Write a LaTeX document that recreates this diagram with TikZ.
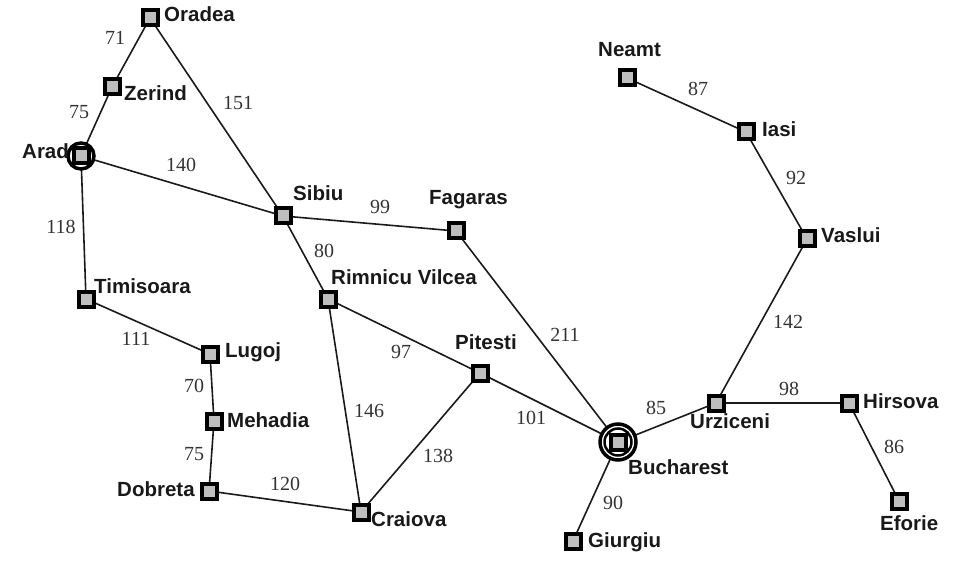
\documentclass[tikz,border=0pt]{standalone}
\usepackage{fontspec}
\setmainfont{Liberation Serif}
\newfontfamily\citysans{Liberation Sans}
\usepackage{xcolor}
\definecolor{cCity}{HTML}{BEBEBE}
\definecolor{cRoad}{HTML}{1A1A1A}
\usetikzlibrary{positioning,arrows.meta}
\tikzset{
  node-city/.style={draw=black,line width=4pt,fill=cCity,rectangle,
    minimum size=15pt,inner sep=0pt},
  node-ring/.style={draw=black,line width=3.5pt,fill=white,circle,inner sep=0pt},
  node-name/.style={anchor=base west,inner sep=0pt,font=\citysans\bfseries\fontsize{20.5}{22}\selectfont,text=black!90},
  node-dist/.style={inner sep=0pt,font=\fontsize{20}{22}\selectfont,text=black!80},
  road/.style={line width=1.6pt,draw=cRoad},
}
\begin{document}
\begin{tikzpicture}[x=1pt,y=-1pt]
  \useasboundingbox (0,0) rectangle (955,561);
  % cities
  \coordinate (oradea) at (150,18);
  \coordinate (zerind) at (112,87);
  \coordinate (arad) at (81,156);
  \coordinate (timisoara) at (86,299);
  \coordinate (lugoj) at (210,354);
  \coordinate (mehadia) at (214,421);
  \coordinate (dobreta) at (209,491);
  \coordinate (sibiu) at (283,216);
  \coordinate (rimnicu) at (328,299);
  \coordinate (fagaras) at (456,231);
  \coordinate (pitesti) at (480,373);
  \coordinate (craiova) at (361,512);
  \coordinate (bucharest) at (618,442);
  \coordinate (giurgiu) at (573,541);
  \coordinate (urziceni) at (716,403);
  \coordinate (hirsova) at (849,403);
  \coordinate (vaslui) at (807,239);
  \coordinate (iasi) at (746,132);
  \coordinate (neamt) at (627,78);
  \coordinate (eforie) at (899,501);
  % roads
  \draw[road] (oradea) -- (zerind);
  \draw[road] (zerind) -- (arad);
  \draw[road] (oradea) -- (sibiu);
  \draw[road] (arad) -- (sibiu);
  \draw[road] (arad) -- (timisoara);
  \draw[road] (timisoara) -- (lugoj);
  \draw[road] (lugoj) -- (mehadia);
  \draw[road] (mehadia) -- (dobreta);
  \draw[road] (dobreta) -- (craiova);
  \draw[road] (sibiu) -- (fagaras);
  \draw[road] (sibiu) -- (rimnicu);
  \draw[road] (rimnicu) -- (craiova);
  \draw[road] (rimnicu) -- (pitesti);
  \draw[road] (craiova) -- (pitesti);
  \draw[road] (pitesti) -- (bucharest);
  \draw[road] (fagaras) -- (bucharest);
  \draw[road] (bucharest) -- (giurgiu);
  \draw[road] (bucharest) -- (urziceni);
  \draw[road] (urziceni) -- (hirsova);
  \draw[road] (hirsova) -- (eforie);
  \draw[road] (urziceni) -- (vaslui);
  \draw[road] (vaslui) -- (iasi);
  \draw[road] (iasi) -- (neamt);
  % start and goal rings
  \node[node-ring,minimum size=26pt] (aradring) at (arad) {};
  \node[node-ring,minimum size=36pt] (buchouter) at (bucharest) {};
  \node[circle,draw=black,line width=2.5pt,inner sep=0pt,minimum size=27pt] (buchinner) at (bucharest) {};
  % markers
  \node[node-city] (n-oradea) at (oradea) {};
  \node[node-city] (n-zerind) at (zerind) {};
  \node[node-city] (n-arad) at (arad) {};
  \node[node-city] (n-timisoara) at (timisoara) {};
  \node[node-city] (n-lugoj) at (lugoj) {};
  \node[node-city] (n-mehadia) at (mehadia) {};
  \node[node-city] (n-dobreta) at (dobreta) {};
  \node[node-city] (n-sibiu) at (sibiu) {};
  \node[node-city] (n-rimnicu) at (rimnicu) {};
  \node[node-city] (n-fagaras) at (fagaras) {};
  \node[node-city] (n-pitesti) at (pitesti) {};
  \node[node-city] (n-craiova) at (craiova) {};
  \node[node-city] (n-bucharest) at (bucharest) {};
  \node[node-city] (n-giurgiu) at (giurgiu) {};
  \node[node-city] (n-urziceni) at (urziceni) {};
  \node[node-city] (n-hirsova) at (hirsova) {};
  \node[node-city] (n-vaslui) at (vaslui) {};
  \node[node-city] (n-iasi) at (iasi) {};
  \node[node-city] (n-neamt) at (neamt) {};
  \node[node-city] (n-eforie) at (eforie) {};
  % names
  \node[node-name] (t-oradea) at (164,22) {Oradea};
  \node[node-name] (t-zerind) at (124,101) {Zerind};
  \node[node-name] (t-arad) at (22,159) {Arad};
  \node[node-name] (t-timisoara) at (94,293) {Timisoara};
  \node[node-name] (t-lugoj) at (225,357) {Lugoj};
  \node[node-name] (t-mehadia) at (227,427) {Mehadia};
  \node[node-name] (t-dobreta) at (117,496) {Dobreta};
  \node[node-name] (t-sibiu) at (293,201) {Sibiu};
  \node[node-name] (t-rimnicu) at (331,284) {Rimnicu Vilcea};
  \node[node-name] (t-fagaras) at (429,205) {Fagaras};
  \node[node-name] (t-pitesti) at (455,349) {Pitesti};
  \node[node-name] (t-craiova) at (371,526) {Craiova};
  \node[node-name] (t-bucharest) at (628,474) {Bucharest};
  \node[node-name] (t-giurgiu) at (588,547) {Giurgiu};
  \node[node-name] (t-urziceni) at (690,428) {Urziceni};
  \node[node-name] (t-hirsova) at (863,408) {Hirsova};
  \node[node-name] (t-vaslui) at (821,243) {Vaslui};
  \node[node-name] (t-iasi) at (762,137) {Iasi};
  \node[node-name] (t-neamt) at (598,57) {Neamt};
  \node[node-name] (t-eforie) at (880,530) {Eforie};
  % distances
  \node[node-dist] (d-or-ze) at (115,38) {71};
  \node[node-dist] (d-ze-ar) at (79,112) {75};
  \node[node-dist] (d-or-si) at (238,103) {151};
  \node[node-dist] (d-ar-si) at (181,165) {140};
  \node[node-dist] (d-ar-ti) at (61,227) {118};
  \node[node-dist] (d-si-fa) at (380,207) {99};
  \node[node-dist] (d-si-ri) at (324,251) {80};
  \node[node-dist] (d-ti-lu) at (136,339) {111};
  \node[node-dist] (d-ri-pi) at (401,352) {97};
  \node[node-dist] (d-ri-cr) at (369,411) {146};
  \node[node-dist] (d-lu-me) at (194,386) {70};
  \node[node-dist] (d-me-do) at (194,454) {75};
  \node[node-dist] (d-do-cr) at (285,484) {120};
  \node[node-dist] (d-cr-pi) at (438,456) {138};
  \node[node-dist] (d-pi-bu) at (531,418) {101};
  \node[node-dist] (d-fa-bu) at (565,335) {211};
  \node[node-dist] (d-bu-ur) at (656,408) {85};
  \node[node-dist] (d-bu-gi) at (613,503) {90};
  \node[node-dist] (d-ur-hi) at (789,389) {98};
  \node[node-dist] (d-hi-ef) at (894,447) {86};
  \node[node-dist] (d-ur-va) at (788,322) {142};
  \node[node-dist] (d-va-ia) at (796,178) {92};
  \node[node-dist] (d-ia-ne) at (698,89) {87};
\end{tikzpicture}
\end{document}
